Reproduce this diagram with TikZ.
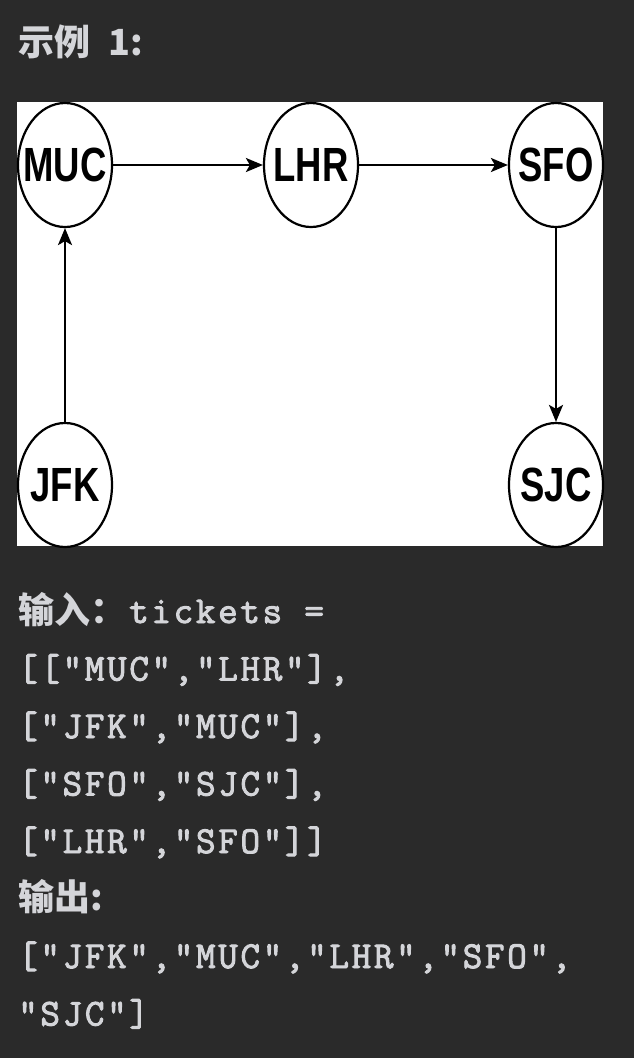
\documentclass[tikz,border=0pt]{standalone}
\usepackage{fontspec}
\setmainfont{Liberation Sans}
\newfontfamily\cjk{Noto Sans CJK SC}
\newfontfamily\codefont{Latin Modern Mono}[LetterSpace=7,FakeBold=2.5]
\usetikzlibrary{shapes.geometric,arrows.meta}
\definecolor{bgdark}{RGB}{42,42,42}
\definecolor{txtgray}{RGB}{212,213,217}
\newcommand{\apt}[1]{\makebox[0pt]{\scalebox{0.76}[1]{#1}}}
\tikzset{
  airport/.style={draw, ellipse, line width=2.2pt, minimum width=94pt, minimum height=124pt,
    inner sep=0pt, font=\fontsize{48}{48}\selectfont\bfseries},
  flight/.style={-{Stealth[length=17pt,width=14pt,inset=4pt]}, line width=2.4pt},
  txtline/.style={anchor=base west, inner sep=0pt, text=txtgray},
  cjkb/.style={font=\fontsize{36}{36}\selectfont\cjk\bfseries},
  mono/.style={font=\fontsize{38}{38}\selectfont\codefont}
}

\begin{document}
\begin{tikzpicture}[x=1pt,y=-1pt]
\fill[bgdark] (0,0) rectangle (634,1058);
\fill[white] (17,102) rectangle (603,546);
%% nodes
\node[airport] (MUC) at (65,165) {\apt{MUC}};
\node[airport] (LHR) at (311,165) {\apt{LHR}};
\node[airport] (SFO) at (556,165) {\apt{SFO}};
\node[airport] (JFK) at (65,485) {\apt{JFK}};
\node[airport] (SJC) at (556,485) {\apt{SJC}};
%%% edges
\draw[flight] (JFK) -- (MUC);
\draw[flight] (MUC) -- (LHR);
\draw[flight] (LHR) -- (SFO);
\draw[flight] (SFO) -- (SJC);

%% text
\node[txtline,cjkb] (title) at (18,55) {示例\hspace{18pt}1:};
\node[txtline,cjkb] (in) at (18,623) {输入：\hspace{3pt}{\fontsize{38}{38}\selectfont\codefont tickets =}};
\node[txtline,mono] (t1) at (18,680.5) {[["MUC","LHR"],};
\node[txtline,mono] (t2) at (18,738) {["JFK","MUC"],};
\node[txtline,mono] (t3) at (18,795.5) {["SFO","SJC"],};
\node[txtline,mono] (t4) at (18,853) {["LHR","SFO"]]};
\node[txtline,cjkb] (out) at (18,910.5) {输出:};
\node[txtline,mono] (o1) at (18,968) {["JFK","MUC","LHR","SFO",};
\node[txtline,mono] (o2) at (18,1025.5) {"SJC"]};
\end{tikzpicture}
\end{document}
